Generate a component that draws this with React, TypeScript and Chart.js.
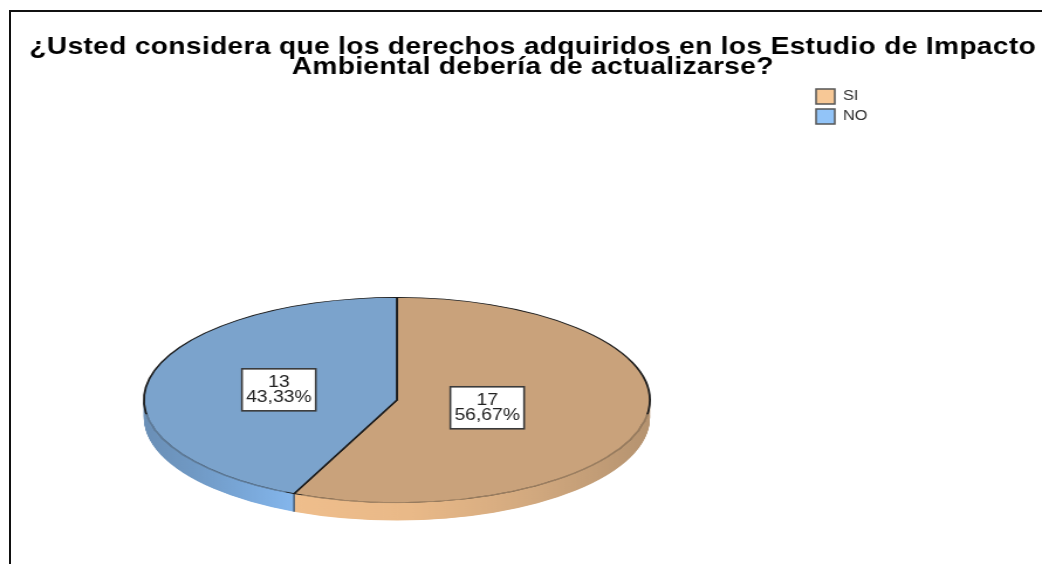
import React, { useEffect, useRef } from "react";
import { Chart, registerables } from "chart.js";

Chart.register(...registerables);

const titleLines = [
  "¿Usted considera que los derechos adquiridos en los Estudio de Impacto",
  "Ambiental debería de actualizarse?",
];
const categories = ["SI", "NO"];
const counts = [17, 13];
const faceColors = ["#C9A27B", "#7BA3CC"];
const legendColors = ["#F7C896", "#92C4F8"];
const depthColors = [
  ["#EFBE8C", "#E9B988", "#D2A97F", "#B59370"],
  ["#6A8FB6", "#7099C4", "#79A7D8", "#84B6EC"],
];
const labelRadii = [0.365, 0.477];

const CANVAS_W = 890;
const CANVAS_H = 564;
const STRETCH = 1042 / CANVAS_W;
const PIE_CX = 339;
const PIE_R = 217;
const AREA_CY = 282;
const FACE_CY = 400;
const SQUASH = 103 / PIE_R;
const DEPTH = 18 / SQUASH;
const DEG = Math.PI / 180;

const piePlugin = {
  id: "tiltedPie",
  afterLayout(chart: any) {
    chart.chartArea = {
      left: PIE_CX - PIE_R,
      right: PIE_CX + PIE_R,
      top: AREA_CY - PIE_R,
      bottom: AREA_CY + PIE_R,
      width: PIE_R * 2,
      height: PIE_R * 2,
    };
    const title = chart.titleBlock;
    if (title && !title.__spaced) {
      const draw = title.draw.bind(title);
      title.draw = () => {
        const c = chart.ctx;
        title.left = 20;
        title.right = CANVAS_W;
        c.save();
        c.letterSpacing = "0.3px";
        draw();
        c.restore();
      };
      title.__spaced = true;
    }
  },
  beforeDatasetsDraw(chart: any) {
    const ctx = chart.ctx;
    const arcs = chart.getDatasetMeta(0).data;
    ctx.save();
    ctx.translate(0, FACE_CY);
    ctx.scale(1, SQUASH);
    ctx.translate(0, -AREA_CY);
    const makeFill = (i: number) => {
      const a = arcs[i];
      const g = ctx.createLinearGradient(
        i === 0 ? a.x - a.outerRadius * 0.41 : a.x - a.outerRadius,
        0,
        i === 0 ? a.x + a.outerRadius : a.x - a.outerRadius * 0.41,
        0
      );
      depthColors[i].forEach((c, k, list) => g.addColorStop(k / (list.length - 1), c));
      return g;
    };
    const fills = arcs.map((_: any, i: number) => makeFill(i));
    for (let off = DEPTH; off > 0; off -= 1) {
      arcs.forEach((a: any, i: number) => {
        ctx.beginPath();
        ctx.moveTo(a.x, a.y + off);
        ctx.arc(a.x, a.y + off, a.outerRadius, a.startAngle, a.endAngle);
        ctx.closePath();
        ctx.fillStyle = fills[i];
        ctx.fill();
      });
    }
    const seam = arcs[1];
    const sx = seam.x + seam.outerRadius * Math.cos(seam.startAngle);
    const sy = seam.y + seam.outerRadius * Math.sin(seam.startAngle);
    ctx.beginPath();
    ctx.moveTo(sx, sy);
    ctx.lineTo(sx, sy + DEPTH);
    ctx.strokeStyle = "#33455a";
    ctx.lineWidth = 1.2;
    ctx.stroke();
  },
  afterDatasetsDraw(chart: any) {
    const ctx = chart.ctx;
    const arcs = chart.getDatasetMeta(0).data;
    // soften the front rim of the top face
    arcs.forEach((a: any, i: number) => {
      const from = i === 0 ? 8 * DEG : a.startAngle + 2 * DEG;
      const to = i === 0 ? a.endAngle - 2 * DEG : 172 * DEG;
      ctx.beginPath();
      ctx.arc(a.x, a.y, a.outerRadius, from, to);
      ctx.strokeStyle = faceColors[i];
      ctx.globalAlpha = 0.7;
      ctx.lineWidth = 2.6;
      ctx.stroke();
      ctx.globalAlpha = 1;
    });
    ctx.restore();
    const total = counts.reduce((s, v) => s + v, 0);
    arcs.forEach((a: any, i: number) => {
      const mid = (a.startAngle + a.endAngle) / 2;
      const r = a.outerRadius * labelRadii[i];
      const x = a.x + r * Math.cos(mid);
      const y = FACE_CY + r * Math.sin(mid) * SQUASH;
      const w = 63;
      const h = 42;
      ctx.fillStyle = "#fff";
      ctx.strokeStyle = "#3a3a3a";
      ctx.lineWidth = 1.6;
      ctx.fillRect(x - w / 2, y - h / 2, w, h);
      ctx.strokeRect(x - w / 2, y - h / 2, w, h);
      ctx.fillStyle = "#222";
      ctx.font = "16.5px 'Liberation Sans'";
      ctx.textAlign = "center";
      ctx.textBaseline = "middle";
      ctx.fillText(String(counts[i]), x, y - 7.5);
      ctx.fillText(((counts[i] / total) * 100).toFixed(2).replace(".", ",") + "%", x, y + 7.5);
    });
  },
};

export default function App() {
  const ref = useRef<HTMLCanvasElement>(null);
  useEffect(() => {
    document.body.style.margin = "0";
    const chart = new Chart(ref.current as HTMLCanvasElement, {
      type: "pie",
      data: {
        labels: categories,
        datasets: [
          {
            data: counts,
            backgroundColor: faceColors,
            borderColor: "#1c1c1c",
            borderWidth: 1.8,
          },
        ],
      },
      options: {
        animation: false,
        responsive: false,
        devicePixelRatio: 1,
        layout: { padding: { left: 0, right: 139, top: 0, bottom: 0 } },
        plugins: {
          tooltip: { enabled: false },
          title: {
            display: true,
            text: titleLines,
            color: "#000",
            font: { family: "'Liberation Sans'", size: 24, weight: "bold", lineHeight: 0.833 },
            padding: { top: 37, bottom: 7 },
          },
          legend: {
            display: true,
            position: "right",
            align: "start",
            fullSize: false,
            labels: {
              boxWidth: 16,
              boxHeight: 15,
              padding: 5,
              color: "#333",
              font: { family: "'Liberation Sans'", size: 14 },
              generateLabels: (c: any) =>
                (Chart as any).overrides.pie.plugins.legend.labels
                  .generateLabels(c)
                  .map((item: any, i: number) => ({
                    ...item,
                    fillStyle: legendColors[i],
                    strokeStyle: "#555",
                    lineWidth: 1.5,
                  })),
            },
          },
        },
      } as any,
      plugins: [piePlugin],
    });
    return () => chart.destroy();
  }, []);
  return (
    <div style={{ position: "fixed", left: 0, top: 0, width: 1042, height: 564, overflow: "hidden", background: "#fff" }}>
      <canvas
        ref={ref}
        width={CANVAS_W}
        height={CANVAS_H}
        style={{ position: "absolute", left: 0, top: 0, transformOrigin: "0 0", transform: `scaleX(${STRETCH})` }}
      />
      <div
        style={{
          position: "absolute",
          left: 9,
          top: 10,
          width: 1040,
          height: 560,
          borderLeft: "2px solid #111",
          borderTop: "2px solid #111",
        }}
      />
    </div>
  );
}
